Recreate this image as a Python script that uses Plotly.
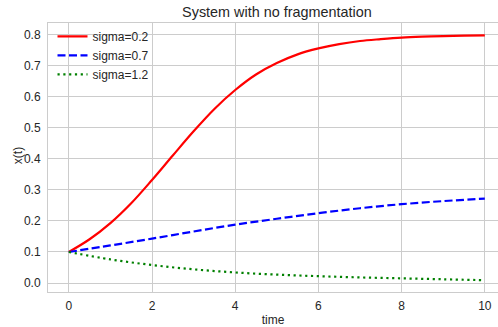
import plotly.graph_objects as go

# Time grid and trajectories of x(t) for each noise level
t = [0, 0.5, 1, 1.5, 2, 2.5, 3, 3.5, 4, 4.5, 5, 5.5, 6, 6.5, 7, 7.5, 8, 8.5, 9, 9.5, 10]
x_sigma_02 = [0.100, 0.141, 0.193, 0.257, 0.332, 0.411, 0.489, 0.561, 0.622, 0.672, 0.709,
              0.737, 0.756, 0.770, 0.780, 0.786, 0.791, 0.794, 0.796, 0.797, 0.798]

t_coarse = [0, 1, 2, 3, 4, 5, 6, 7, 8, 9, 10]
x_sigma_07 = [0.100, 0.121, 0.143, 0.166, 0.188, 0.207, 0.225, 0.241, 0.254, 0.264, 0.272]
x_sigma_12 = [0.100, 0.076, 0.058, 0.044, 0.034, 0.027, 0.022, 0.018, 0.015, 0.012, 0.009]

x_ticks = [0, 2, 4, 6, 8, 10]
y_ticks = [0.0, 0.1, 0.2, 0.3, 0.4, 0.5, 0.6, 0.7, 0.8]

FONT = "Liberation Sans, Arial, sans-serif"
GRID = "#cccccc"

fig = go.Figure()
fig.add_trace(go.Scatter(x=t, y=x_sigma_02, mode="lines", name="sigma=0.2",
                         line=dict(color="red", width=2.2, shape="spline")))
fig.add_trace(go.Scatter(x=t_coarse, y=x_sigma_07, mode="lines", name="sigma=0.7",
                         line=dict(color="blue", width=2.2, dash="8px,3.5px", shape="spline")))
fig.add_trace(go.Scatter(x=t_coarse, y=x_sigma_12, mode="lines", name="sigma=1.2",
                         line=dict(color="green", width=2.2, dash="2.2px,3.6px", shape="spline")))

fig.update_layout(
    width=498, height=327,
    margin=dict(l=48, r=0, t=23, b=32),
    paper_bgcolor="white", plot_bgcolor="white",
    font=dict(family=FONT, size=12, color="#262626"),
    title=dict(text="System with no fragmentation", x=0.556, xanchor="center",
               y=0.962, yanchor="middle", font=dict(size=14.4, color="#262626")),
    showlegend=True,
    legend=dict(x=0.01, y=1.004, xanchor="left", yanchor="top", bgcolor="rgba(0,0,0,0)",
                font=dict(size=12, color="#262626"), itemwidth=30, tracegroupgap=0),
    xaxis=dict(range=[-0.5, 10.317], tickvals=x_ticks, ticktext=[str(v) for v in x_ticks],
               showgrid=True, gridcolor=GRID, gridwidth=1, zeroline=False,
               showline=True, linecolor=GRID, linewidth=1, mirror=True,
               ticks="", tickfont=dict(size=12), ticklabelstandoff=3,
               title=dict(text="time", font=dict(size=12), standoff=5)),
    yaxis=dict(range=[-0.029, 0.838], tickvals=y_ticks, ticktext=[f"{v:.1f}" for v in y_ticks],
               showgrid=True, gridcolor=GRID, gridwidth=1, zeroline=False,
               showline=True, linecolor=GRID, linewidth=1, mirror=False,
               ticks="", tickfont=dict(size=12), ticklabelstandoff=4),
    annotations=[dict(text="x(t)", xref="paper", yref="y", x=-0.068, y=0.41,
                      xanchor="center", yanchor="middle", textangle=-90, showarrow=False,
                      font=dict(size=12, color="#262626"))],
)

fig.write_html("out.html")
